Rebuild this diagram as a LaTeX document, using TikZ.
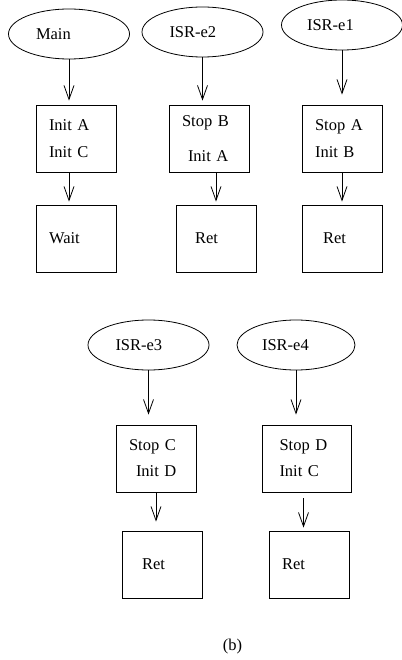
\documentclass[tikz,border=0pt]{standalone}
\usepackage{fontspec}
\setmainfont{Liberation Serif}
\usetikzlibrary{shapes.geometric,arrows.meta}

\tikzstyle{event} = [ellipse,draw,minimum width=121pt,minimum height=50pt,inner sep=0pt,text width=66pt,align=left]
\tikzstyle{task} = [rectangle,draw,minimum width=80pt,minimum height=67pt,inner xsep=13pt,text width=54pt,align=left]
\tikzstyle{flow} = [-{Straight Barb[length=14pt,width=10pt]},shorten >=4pt]
\tikzstyle{every node}=[font=\fontsize{16.5}{20}\selectfont]

\begin{document}
\begin{tikzpicture}[x=1pt,y=-1pt,line width=0.8pt]
	\useasboundingbox (0,0) rectangle (401,660);
	% Main
	\node[event] (main) at (69,34) {Main};
	\node[task] (t1) at (76,138.5) {Init A\\[7pt]Init C};
	\node[task] (w1) at (76,238.5) {Wait};
	\draw[flow] (main.south) -- (main.south |- t1.north);
	\draw[flow,shorten >=3pt] (main.south |- t1.south) -- (main.south |- w1.north);
	% ISR-e2
	\node[event] (e2) at (202.5,32) {ISR-e2};
	\node[task] (t2) at (209,138.5) {Stop B\\[15pt]\hspace*{6pt}Init A};
	\node[task] (r2) at (216,238.5) {\hspace*{6pt}Ret};
	\draw[flow] (e2.south) -- (e2.south |- t2.north);
	\draw[flow,shorten >=3pt] (r2.north |- t2.south) -- (r2.north);
	% ISR-e1
	\node[event,text width=70pt] (e1) at (342,25) {ISR-e1};
	\node[task] (t3) at (342,138.5) {Stop A\\[7pt]Init B};
	\node[task] (r3) at (342,238.5) {\hspace*{8pt}Ret};
	\draw[flow,shorten >=10pt] (e1.south) -- (e1.south |- t3.north);
	\draw[flow,shorten >=3pt] (t3.south) -- (r3.north);
	% ISR-e3
	\node[event] (e3) at (148.5,345) {ISR-e3};
	\node[task] (t4) at (156,458.5) {Stop C\\[6pt]\hspace*{7pt}Init D};
	\node[task] (r4) at (162,564.5) {\hspace*{7pt}Ret};
	\draw[flow,shorten >=10pt] (e3.south) -- (e3.south |- t4.north);
	\draw[flow,shorten >=9pt] (t4.south) -- (t4.south |- r4.north);
	% ISR-e4
	\node[event,minimum width=118pt,text width=68pt] (e4) at (296,345) {ISR-e4};
	\node[task,minimum width=89pt] (t5) at (306.5,458.5) {Stop D\\[6pt]Init C};
	\node[task] (r5) at (309,564.5) {Ret};
	\draw[flow,shorten >=10pt] (e4.south) -- (e4.south |- t5.north);
	\draw[flow,shorten <=6pt,shorten >=3pt] ([xshift=-3pt]t5.south) -- ([xshift=-3pt]t5.south |- r5.north);
	\node (cap) at (232.5,647) {(b)};
\end{tikzpicture}
\end{document}
